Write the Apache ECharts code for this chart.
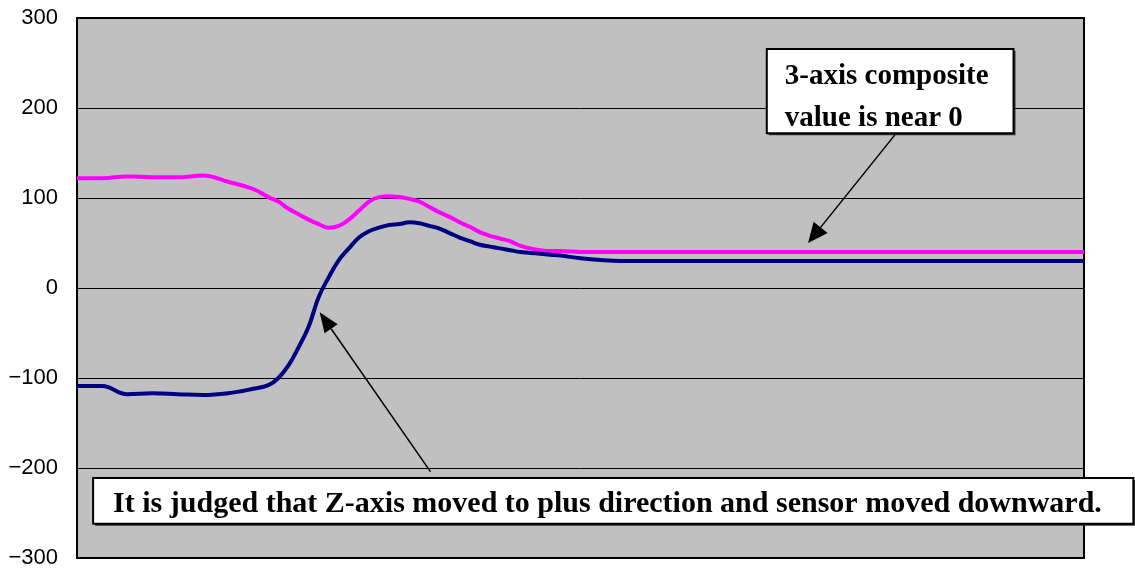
<!DOCTYPE html>
<html>
<head>
<meta charset="utf-8">
<script src="https://cdn.jsdelivr.net/npm/echarts@6/dist/echarts.min.js"></script>
<style>html,body{margin:0;padding:0;background:#fff;}#c{width:1135px;height:571px;}</style>
</head>
<body>
<div id="c"></div>
<script>
// time index (arbitrary sample units)
const time = [0,2.5,5,7.5,10,12.5,15,17.5,19,20,21,22,23,24,25,26,27,28,29,30,31,32,33,34,35,36,37,38,39,40,41,42,43,44,45,46,47,48,50,52,54,60,70,80,90,100];
const composite = [122,122,124,123,123,125,118,110,101,96,88,82,76,71,67,69,76,86,96,101,102,101,99,96,90,84,79,73,68,62,58,55,52,47,44,42,41,41,40,40,40,40,40,40,40,40];
const zAxis = [-109,-109,-118,-117,-118,-119,-117,-112,-108,-100,-86,-66,-43,-10,12,31,44,56,63,67,70,71,73,72,69,66,61,56,52,48,46,44,42,40,39,38,37,36,33,31,30,30,30,30,30,30];
const yTicks = [-300,-200,-100,0,100,200,300];
const note1 = ['3-axis composite', 'value is near 0'];
const note2 = 'It is judged that Z-axis moved to plus direction and sensor moved downward.';
// annotation anchors in data coordinates [time, value]
const arrow1 = [[82, 181], [72.6, 50]];
const arrow2 = [[35.1, -204], [24.1, -27]];
const box1 = [[68.5, 265.6], [93.0, 172]];
const box2 = [[1.6, -211], [104.9, -262]];

const chart = echarts.init(document.getElementById('c'), null, {renderer: 'canvas'});
const pairs = a => time.map((t, i) => [t, a[i]]);
chart.setOption({
  animation: false,
  grid: {left: 77, right: 51, top: 18, bottom: 13, show: true, backgroundColor: '#c0c0c0', borderColor: '#000', borderWidth: 2},
  xAxis: {type: 'value', min: 0, max: 100, show: false, splitLine: {show: false}},
  yAxis: {
    type: 'value', min: yTicks[0], max: yTicks[yTicks.length - 1], interval: 100,
    axisLine: {show: true, lineStyle: {color: '#000', width: 2}},
    axisTick: {show: false},
    splitLine: {show: true, lineStyle: {color: '#000', width: 1}},
    axisLabel: {color: '#000', fontFamily: 'Liberation Sans, Arial, sans-serif', fontSize: 22, margin: 19,
      formatter: v => String(v).replace('-', '\u2212')}
  },
  series: [
    {type: 'line', data: pairs(composite), smooth: 0.4, showSymbol: false, lineStyle: {color: '#ff00ff', width: 4}, z: 3},
    {type: 'line', data: pairs(zAxis), smooth: 0.4, showSymbol: false, lineStyle: {color: '#000080', width: 4}, z: 3}
  ]
});

function px(p) { return chart.convertToPixel({gridIndex: 0}, p); }
function arrowEls(a, headLen, headW) {
  const s = px(a[0]), e = px(a[1]);
  const dx = e[0] - s[0], dy = e[1] - s[1];
  const L = Math.hypot(dx, dy), ux = dx / L, uy = dy / L;
  const bx = e[0] - ux * headLen, by = e[1] - uy * headLen;
  return [
    {type: 'line', shape: {x1: s[0], y1: s[1], x2: bx, y2: by}, style: {stroke: '#000', lineWidth: 1.5}, z: 10},
    {type: 'polygon', shape: {points: [[e[0], e[1]], [bx - uy * headW, by + ux * headW], [bx + uy * headW, by - ux * headW]]}, style: {fill: '#000'}, z: 10}
  ];
}
const b1a = px(box1[0]), b1b = px(box1[1]);
const b2a = px(box2[0]), b2b = px(box2[1]);
const els = [];
els.push(...arrowEls(arrow1, 20, 9));
els.push(...arrowEls(arrow2, 20, 8));
els.push({type: 'rect', shape: {x: b1a[0] + 2, y: b1a[1] + 2, width: b1b[0] - b1a[0], height: b1b[1] - b1a[1]}, style: {fill: '#333'}, z: 11});
els.push({type: 'rect', shape: {x: b1a[0], y: b1a[1], width: b1b[0] - b1a[0], height: b1b[1] - b1a[1]}, style: {fill: '#fff', stroke: '#000', lineWidth: 2}, z: 12});
els.push({type: 'text', x: b1a[0] + 18, y: b1a[1] + 13, style: {text: note1[0], font: 'bold 29px "Liberation Serif", serif', fill: '#000'}, z: 13});
els.push({type: 'text', x: b1a[0] + 18, y: b1a[1] + 55, style: {text: note1[1], font: 'bold 29px "Liberation Serif", serif', fill: '#000'}, z: 13});
els.push({type: 'rect', shape: {x: b2a[0] + 2, y: b2a[1] + 2, width: b2b[0] - b2a[0], height: b2b[1] - b2a[1]}, style: {fill: '#333'}, z: 11});
els.push({type: 'rect', shape: {x: b2a[0], y: b2a[1], width: b2b[0] - b2a[0], height: b2b[1] - b2a[1]}, style: {fill: '#fff', stroke: '#000', lineWidth: 2}, z: 12});
els.push({type: 'text', x: b2a[0] + 20, y: b2a[1] + 11, style: {text: note2, font: 'bold 30px "Liberation Serif", serif', fill: '#000'}, z: 13});
chart.setOption({graphic: {elements: els}});
</script>
</body>
</html>
